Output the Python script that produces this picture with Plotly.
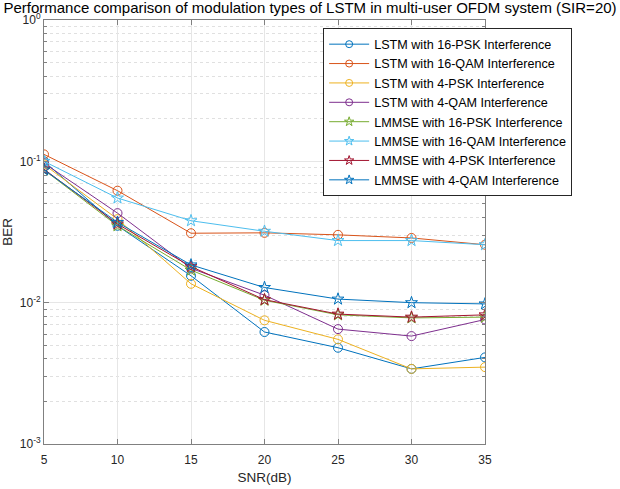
import plotly.graph_objects as go

snr = [5, 10, 15, 20, 25, 30, 35]

lstm_16psk = [0.100, 0.035, 0.0155, 0.0062, 0.0048, 0.0034, 0.0041]
lstm_16qam = [0.112, 0.062, 0.031, 0.0312, 0.0302, 0.0287, 0.0257]
lstm_4psk = [0.095, 0.039, 0.0136, 0.0075, 0.0055, 0.0034, 0.0035]
lstm_4qam = [0.097, 0.043, 0.0175, 0.0113, 0.0065, 0.0058, 0.0076]
lmmse_16psk = [0.087, 0.035, 0.0170, 0.0104, 0.0082, 0.0078, 0.0079]
lmmse_16qam = [0.100, 0.055, 0.0380, 0.0320, 0.0275, 0.0275, 0.0257]
lmmse_4psk = [0.088, 0.036, 0.0180, 0.0105, 0.0083, 0.0079, 0.0082]
lmmse_4qam = [0.087, 0.037, 0.0185, 0.0128, 0.0106, 0.0100, 0.0098]

y_tickvals = [1e-3, 1e-2, 1e-1, 1]
y_ticktext = ["10<sup>-3</sup>", "10<sup>-2</sup>", "10<sup>-1</sup>", "10<sup>0</sup>"]

names = [
    "LSTM with 16-PSK Interference",
    "LSTM with 16-QAM Interference",
    "LSTM with 4-PSK Interference",
    "LSTM with 4-QAM Interference",
    "LMMSE with 16-PSK Interference",
    "LMMSE with 16-QAM Interference",
    "LMMSE with 4-PSK Interference",
    "LMMSE with 4-QAM Interference",
]
series = [lstm_16psk, lstm_16qam, lstm_4psk, lstm_4qam,
          lmmse_16psk, lmmse_16qam, lmmse_4psk, lmmse_4qam]
colors = ["#0072BD", "#D95319", "#EDB120", "#7E2F8E",
          "#77AC30", "#4DBEEE", "#A2142F", "#0072BD"]
symbols = ["circle-open"] * 4 + ["star-open"] * 4

fig = go.Figure()
for n, s, c, m in zip(names, series, colors, symbols):
    fig.add_trace(go.Scatter(
        x=snr, y=s, name=n, mode="lines+markers", showlegend=False,
        line=dict(color=c, width=1),
        marker=dict(symbol=m, size=9, color=c, line=dict(color=c, width=1)),
    ))
# legend entries (smaller markers, as in the reference legend)
for n, c, m in zip(names, colors, symbols):
    fig.add_trace(go.Scatter(
        x=[None], y=[None], name=n, mode="lines+markers",
        line=dict(color=c, width=1),
        marker=dict(symbol=m, size=7, color=c, line=dict(color=c, width=1)),
    ))

axis_font = dict(family="Liberation Sans, Arial, sans-serif", size=12, color="#262626")

fig.update_layout(
    width=620, height=489,
    margin=dict(l=44, r=135, t=20, b=45),
    paper_bgcolor="white", plot_bgcolor="white",
    font=dict(family="Liberation Sans, Arial, sans-serif", size=12, color="#262626"),
    title=dict(text="Performance comparison of modulation types of LSTM in multi-user OFDM system (SIR=20)",
               x=0.5, xanchor="center", y=0.995, yanchor="top",
               pad=dict(t=0, b=0),
               font=dict(size=15, color="#000000")),
    showlegend=True,
    legend=dict(x=0.633, y=0.98, xanchor="left", yanchor="top",
                bgcolor="white", bordercolor="#262626", borderwidth=1,
                font=dict(size=12.6, color="#000000"), tracegroupgap=0,
                itemwidth=40),
)

fig.update_xaxes(
    range=[5, 35], tickvals=snr, automargin=False,
    showline=True, linecolor="#808080", linewidth=1, mirror="ticks",
    ticks="inside", ticklen=5, tickcolor="#808080",
    showgrid=True, gridcolor="#e6e6e6", gridwidth=1,
    zeroline=False, tickfont=axis_font, ticklabelstandoff=5,
    title=dict(text="SNR(dB)", font=dict(size=13.5, color="#262626"), standoff=6),
)
fig.update_yaxes(
    type="log", range=[-3, 0], tickvals=y_tickvals, ticktext=y_ticktext,
    automargin=False,
    showline=True, linecolor="#808080", linewidth=1, mirror="ticks",
    ticks="inside", ticklen=5, tickcolor="#808080",
    showgrid=True, gridcolor="#e6e6e6", gridwidth=1,
    zeroline=False, tickfont=axis_font,
    minor=dict(dtick="D1", ticks="inside", ticklen=3, tickcolor="#808080",
               showgrid=True, gridcolor="#e0e0e0", griddash="dot", gridwidth=1),
    title=dict(text="BER", font=dict(size=13.5, color="#262626"), standoff=6),
)

fig.write_html("out.html", config={"displayModeBar": False},
               post_script="document.body.style.margin='0';")
